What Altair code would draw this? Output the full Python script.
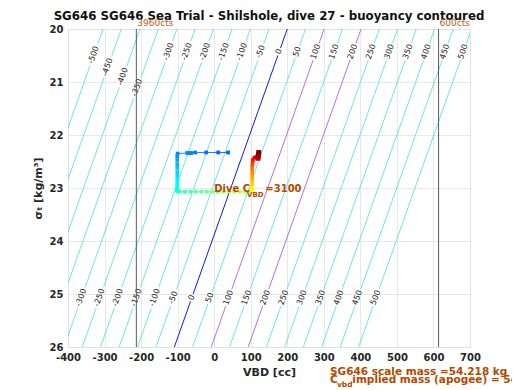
import altair as alt
import pandas as pd

# ---- buoyancy contour levels (g) and their VBD at sigma_t = 20 and 26 ----
levels = [-500, -450, -400, -350, -300, -250, -200, -150, -100, -50, 0,
          50, 100, 150, 200, 250, 300, 350, 400, 450, 500]
vbd_top = [-304, -254, -203, -153, -102, -52, -2, 49, 99, 150, 200,
           250, 301, 351, 402, 452, 502, 553, 603, 654, 704]
vbd_bottom = [-613, -563, -512, -462, -411, -361, -311, -260, -210, -159, -109,
              -59, -8, 42, 93, 143, 193, 244, 294, 345, 395]
top_label_sigma = [20.49, 20.72, 20.90, 21.11] + [20.43] * 17
bottom_label_levels = [-300, -250, -200, -150, -100, -50, 0, 50, 100, 150,
                       200, 250, 300, 350, 400, 450, 500]
bottom_label_sigma = 25.07

# ---- dive trace ----
trace_vbd = [38, 11, -22, -52, -63, -68, -74, -100,
             -101, -101, -101, -101, -101, -101, -101, -101, -101, -101, -101, -101,
             -95, -80, -65, -50, -35, -20, -5, 10, 25, 40, 55, 70, 85, 100,
             103, 103, 104, 104, 104, 104, 104, 104, 105,
             106, 110, 116, 120, 121, 121, 122]
trace_sigma = [22.33, 22.33, 22.33, 22.33, 22.34, 22.34, 22.34, 22.35,
               22.40, 22.47, 22.55, 22.62, 22.70, 22.77, 22.84, 22.90, 22.96, 23.01, 23.04, 23.06,
               23.07, 23.07, 23.07, 23.07, 23.07, 23.07, 23.07, 23.07, 23.07, 23.07, 23.07, 23.07, 23.07, 23.07,
               23.05, 23.00, 22.93, 22.86, 22.79, 22.72, 22.65, 22.58, 22.52,
               22.47, 22.43, 22.41, 22.44, 22.40, 22.36, 22.33]
trace_time = [0.17, 0.18, 0.19, 0.20, 0.20, 0.21, 0.21, 0.22,
              0.23, 0.25, 0.27, 0.29, 0.31, 0.33, 0.35, 0.37, 0.39, 0.41, 0.43, 0.45,
              0.46, 0.47, 0.48, 0.49, 0.50, 0.51, 0.52, 0.53, 0.54, 0.55, 0.56, 0.57, 0.58, 0.60,
              0.62, 0.65, 0.68, 0.71, 0.74, 0.77, 0.80, 0.83, 0.85,
              0.87, 0.89, 0.91, 0.93, 0.95, 0.97, 1.00]
trace_size = [14] * 46 + [24, 24, 24, 24]

pump_lines = [-213, 614]
pump_labels = ["3960cts", "600cts"]
x_ticks = [-400, -300, -200, -100, 0, 100, 200, 300, 400, 500, 600, 700]
y_ticks = [20, 21, 22, 23, 24, 25, 26]

title_text = "SG646 SG646 Sea Trial - Shilshole, dive 27 - buoyancy contoured"

FONT = "DejaVu Sans"
BROWN = "#b34a00"


def vbd_at(i, s):
    return vbd_top[i] + (vbd_bottom[i] - vbd_top[i]) * (s - 20.0) / 6.0


def gap(txt):
    return (len(txt) * 4.9 + 3) / 2 * 0.94 / 53.0


line_rows, label_rows = [], []
for i, lev in enumerate(levels):
    txt = str(lev)
    g = gap(txt)
    cuts = [(top_label_sigma[i] - g, top_label_sigma[i] + g)]
    label_rows.append({"vbd": vbd_at(i, top_label_sigma[i]), "sigma": top_label_sigma[i], "txt": txt})
    if lev in bottom_label_levels:
        cuts.append((bottom_label_sigma - g, bottom_label_sigma + g))
        label_rows.append({"vbd": vbd_at(i, bottom_label_sigma), "sigma": bottom_label_sigma, "txt": txt})
    bounds = [20.0]
    for a, b in cuts:
        bounds += [a, b]
    bounds.append(26.0)
    col = "#0a1ed2" if lev == 0 else ("#9b4fd6" if lev in (100, 200) else "#3fe0e8")
    sw = 1.0 if lev == 0 else 0.8
    for k in range(0, len(bounds), 2):
        seg = f"{lev}_{k}"
        for s in (bounds[k], bounds[k + 1]):
            line_rows.append({"vbd": vbd_at(i, s), "sigma": s, "seg": seg, "col": col, "sw": sw})

lines_df = pd.DataFrame(line_rows)
labels_df = pd.DataFrame(label_rows)

trace_df = pd.DataFrame({"vbd": trace_vbd, "sigma": trace_sigma, "t": trace_time, "sz": trace_size})
seg_df = pd.DataFrame({
    "vbd": trace_vbd[:-1], "sigma": trace_sigma[:-1],
    "vbd2": trace_vbd[1:], "sigma2": trace_sigma[1:], "t": trace_time[1:],
})

xs = alt.Scale(domain=[-400, 700], nice=False, zero=False)
ys = alt.Scale(domain=[20, 26], nice=False, zero=False, reverse=True)

xaxis = alt.Axis(values=x_ticks, title="VBD [cc]",
                 labelExpr="datum.value < 0 ? '-' + abs(datum.value) : '' + datum.value",
                 grid=True, gridColor="#e2e2e2", gridWidth=0.8, ticks=False, domain=False,
                 labelFont=FONT, labelFontSize=10, labelFontWeight="bold", labelColor="#262626",
                 labelFlush=False, labelPadding=5, labelOverlap=False,
                 titleFont=FONT, titleFontSize=11, titleFontWeight="bold", titleColor="#262626",
                 titlePadding=4)
yaxis = alt.Axis(values=y_ticks, title="σₜ [kg/m³]", format="d",
                 grid=True, gridColor="#e2e2e2", gridWidth=0.8, ticks=False, domain=False,
                 labelFont=FONT, labelFontSize=10, labelFontWeight="bold", labelColor="#262626",
                 labelFlush=False, labelPadding=5, labelOverlap=False,
                 titleFont=FONT, titleFontSize=11, titleFontWeight="bold", titleColor="#262626",
                 titlePadding=6)


def X(f="vbd"):
    return alt.X(f, type="quantitative", scale=xs, axis=xaxis)


def Y(f="sigma"):
    return alt.Y(f, type="quantitative", scale=ys, axis=yaxis)


jet = alt.Scale(domain=[0, 0.125, 0.375, 0.625, 0.875, 1.0],
                range=["#00008f", "#0000ff", "#00ffff", "#ffff00", "#ff0000", "#800000"])

contours = alt.Chart(lines_df).mark_line(clip=True).encode(
    x=X(), y=Y(), detail="seg:N",
    stroke=alt.Stroke("col:N", scale=None),
    strokeWidth=alt.StrokeWidth("sw:Q", scale=None),
)

clabels = alt.Chart(labels_df).mark_text(
    angle=289.5, font=FONT, fontSize=8, color="#1a1a1a", align="center", baseline="middle"
).encode(x=X(), y=Y(), text="txt:N")

pumps_df = pd.DataFrame({"vbd": pump_lines, "txt": pump_labels, "sigma": [19.98, 19.98]})
pumps = alt.Chart(pumps_df).mark_rule(color="#5a5a5a", strokeWidth=1).encode(x=X())
pump_txt = alt.Chart(pumps_df).mark_text(
    font=FONT, fontSize=9, color="#c55a11", align="left", baseline="bottom", dx=1
).encode(x=X(), y=Y(), text="txt:N")

trace_lines = alt.Chart(seg_df).mark_rule(strokeWidth=0.9).encode(
    x=X(), y=Y(), x2="vbd2:Q", y2="sigma2:Q",
    color=alt.Color("t:Q", scale=jet, legend=None),
)
trace_pts = alt.Chart(trace_df).mark_point(filled=True, opacity=1, shape="square").encode(
    x=X(), y=Y(), color=alt.Color("t:Q", scale=jet, legend=None),
    size=alt.Size("sz:Q", scale=None),
)

ann_df = pd.DataFrame({
    "vbd": [0, 90, 140, 317, 317, 336, 378],
    "sigma": [23.02, 23.13, 23.02, 26.47, 26.62, 26.72, 26.62],
    "txt": ["Dive C", "VBD", "=3100", "SG646 scale mass =54.218 kg", "C", "vbd",
            "implied mass (apogee) = 54.163 kg"],
    "fs": [10, 7, 10, 10.5, 10.5, 7.5, 10.5],
})
ann = alt.Chart(ann_df).mark_text(
    font=FONT, fontWeight="bold", color=BROWN, align="left", baseline="middle"
).encode(x=X(), y=Y(), text="txt:N", size=alt.Size("fs:Q", scale=None))

title_df = pd.DataFrame({"vbd": [150], "sigma": [19.76], "txt": [title_text]})
title = alt.Chart(title_df).mark_text(
    font=FONT, fontSize=11.8, fontWeight="bold", color="#111111", align="center", baseline="middle"
).encode(x=X(), y=Y(), text="txt:N")

chart = alt.layer(contours, clabels, pumps, title, pump_txt, trace_lines, trace_pts, ann).properties(
    width=402, height=318,
    padding={"left": 60, "top": 21, "right": 42, "bottom": 43},
    autosize=alt.AutoSizeParams(type="none"),
).configure_view(stroke="#4a4a4a", strokeWidth=1).configure(background="white")

chart.save("out.html", embed_options={"renderer": "svg", "actions": False})
